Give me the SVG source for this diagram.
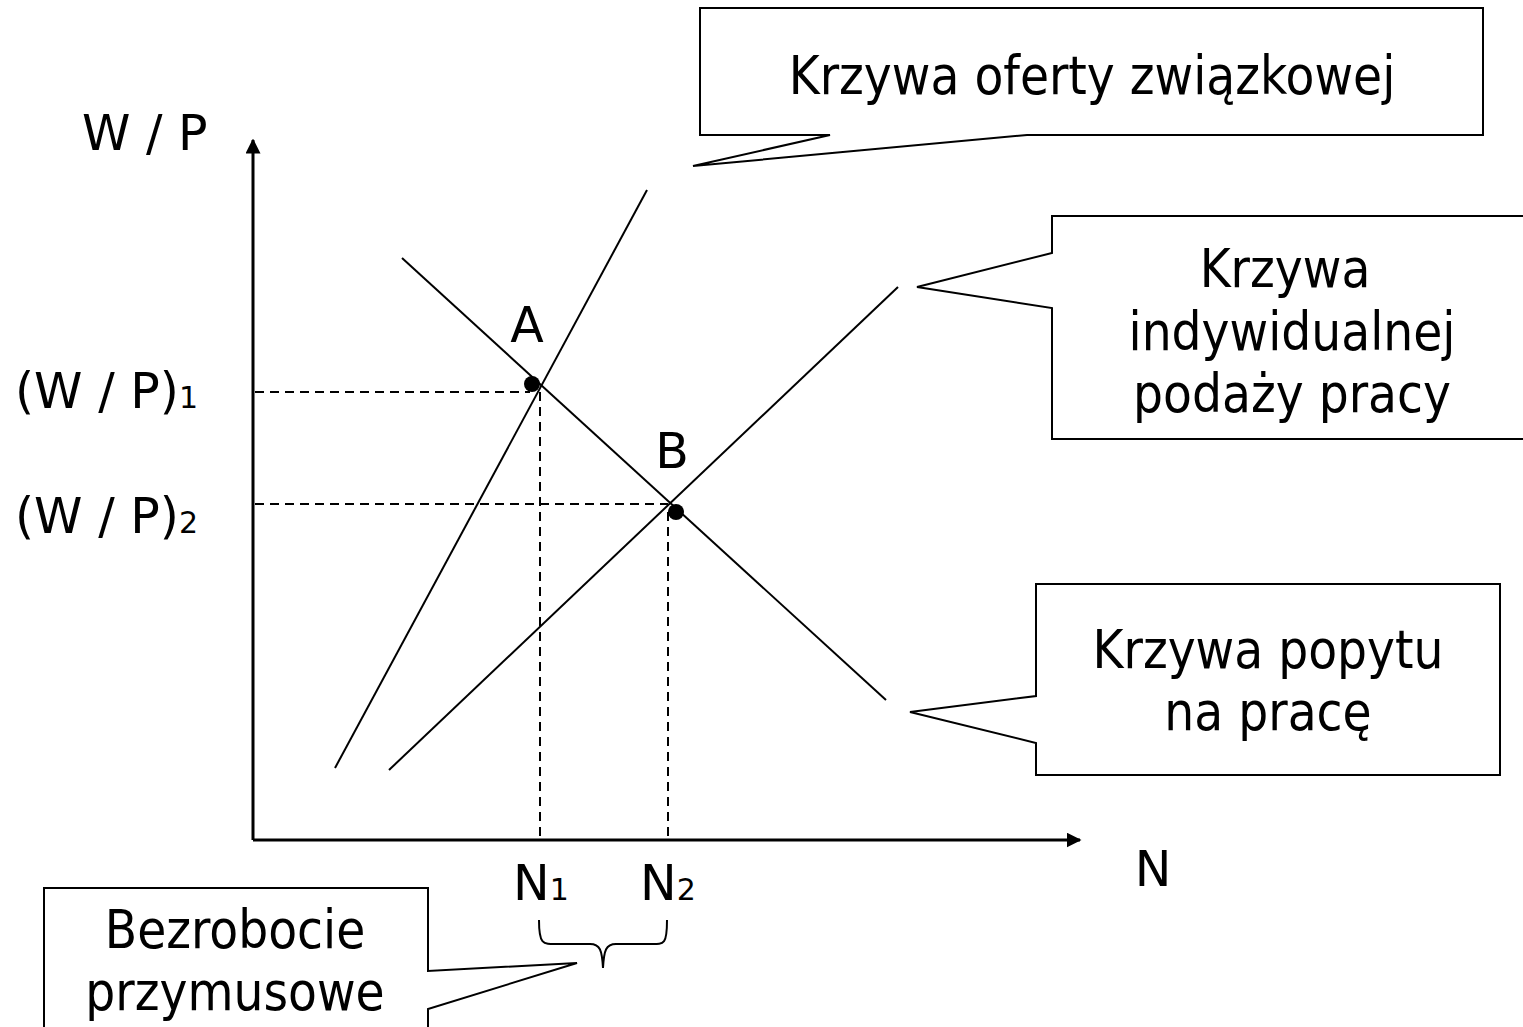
<svg xmlns="http://www.w3.org/2000/svg" width="1523" height="1027" viewBox="0 0 1523 1027">
<style>
text{font-family:"DejaVu Sans","Liberation Sans",sans-serif;font-size:49px;fill:#000}
.bt{font-family:"DejaVu Sans Condensed","DejaVu Sans","Liberation Sans",sans-serif;font-size:52.5px;font-stretch:condensed}
.sub{font-size:30px}
.c{text-anchor:middle}
.ln{stroke:#000;stroke-width:2;fill:none}
.ax{stroke:#000;stroke-width:3;fill:none}
.dash{stroke:#000;stroke-width:2;fill:none;stroke-dasharray:9 6}
.box{stroke:#000;stroke-width:2;fill:#fff}
</style>
<defs>
<marker id="arr" viewBox="0 0 10 10" refX="9" refY="5" markerWidth="5" markerHeight="5" orient="auto" markerUnits="strokeWidth">
<path d="M0,0 L10,5 L0,10 z" fill="#000"/>
</marker>
</defs>
<rect width="1523" height="1027" fill="#fff"/>
<g id="axes">
<line class="ax" x1="253" y1="840" x2="253" y2="140" marker-end="url(#arr)"/>
<line class="ax" x1="253" y1="840" x2="1080" y2="840" marker-end="url(#arr)"/>
<text x="82" y="150">W / P</text>
<text x="1153" y="886" class="c">N</text>
<text x="15" y="408">(W / P)<tspan class="sub">1</tspan></text>
<text x="15" y="533">(W / P)<tspan class="sub">2</tspan></text>
<text x="513" y="900">N<tspan class="sub">1</tspan></text>
<text x="640" y="900">N<tspan class="sub">2</tspan></text>
</g>
<g id="connectors">
<line class="dash" x1="255" y1="392" x2="530" y2="392"/>
<line class="dash" x1="255" y1="504" x2="668" y2="504"/>
<line class="dash" x1="540" y1="392" x2="540" y2="838"/>
<line class="dash" x1="668" y1="512" x2="668" y2="838"/>
<line id="union" class="ln" x1="335" y1="768" x2="647" y2="190"/>
<line id="demand" class="ln" x1="402" y1="258" x2="886" y2="700"/>
<line id="supply" class="ln" x1="389" y1="770" x2="898" y2="287"/>
<path class="ln" d="M539,920 C539,946 543,944 560,944 L590,944 C600,944 602,950 603,968 C604,950 606,944 616,944 L648,944 C664,944 667,946 667,920"/>
</g>
<g id="pointA">
<circle cx="532" cy="384" r="8" fill="#000"/>
<text x="527" y="342" class="c">A</text>
</g>
<g id="pointB">
<circle cx="676" cy="512" r="8" fill="#000"/>
<text x="672" y="468" class="c">B</text>
</g>
<g id="callout-union">
<path class="box" d="M700,8 L1483,8 L1483,135 L1027,135 L693,166 L830,135 L700,135 Z"/>
<text x="1092" y="94" class="c bt">Krzywa oferty związkowej</text>
</g>
<g id="callout-supply">
<path class="box" d="M1052,216 L1530,216 L1530,439 L1052,439 L1052,308 L917,287 L1052,253 Z"/>
<text x="1285" y="287" class="c bt">Krzywa</text>
<text x="1292" y="350" class="c bt">indywidualnej</text>
<text x="1292" y="412" class="c bt">podaży pracy</text>
</g>
<g id="callout-demand">
<path class="box" d="M1036,584 L1500,584 L1500,775 L1036,775 L1036,743 L910,712 L1036,696 Z"/>
<text x="1268" y="668" class="c bt">Krzywa popytu</text>
<text x="1268" y="730" class="c bt">na pracę</text>
</g>
<g id="callout-unemployment">
<path class="box" d="M44,888 L428,888 L428,971 L577,963 L428,1009 L428,1040 L44,1040 Z"/>
<text x="235" y="948" class="c bt">Bezrobocie</text>
<text x="235" y="1010" class="c bt">przymusowe</text>
</g>
</svg>
